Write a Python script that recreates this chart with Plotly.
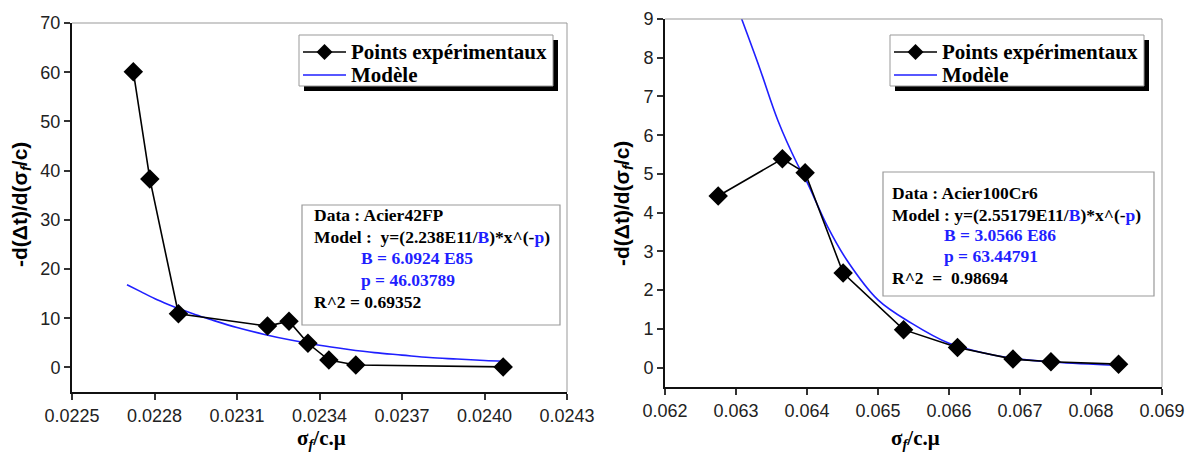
import plotly.graph_objects as go

W, H = 1193, 453

# ---------------- data ----------------
# Left panel : Acier42FP
x_exp_1 = [0.022723, 0.022783, 0.022887, 0.023211, 0.023289, 0.023358, 0.023434, 0.023532, 0.024068]
y_exp_1 = [60.1, 38.3, 10.9, 8.4, 9.4, 4.9, 1.5, 0.5, 0.1]
x_mod_1 = [0.02270, 0.02275, 0.02280, 0.02285, 0.02290, 0.02295, 0.02300, 0.02310, 0.02320,
           0.02330, 0.02340, 0.02350, 0.02360, 0.02370, 0.02380, 0.02390, 0.02400, 0.02407]
y_mod_1 = [16.8, 15.4, 14.0, 12.8, 11.7, 10.7, 9.8, 8.1, 6.7,
           5.5, 4.5, 3.7, 3.0, 2.5, 2.0, 1.7, 1.4, 1.25]
xticks_1 = [0.0225, 0.0228, 0.0231, 0.0234, 0.0237, 0.0240, 0.0243]
yticks_1 = [0, 10, 20, 30, 40, 50, 60, 70]

# Right panel : Acier100Cr6
x_exp_2 = [0.062749, 0.063653, 0.063974, 0.064509, 0.065360, 0.066120, 0.066901, 0.067436, 0.068388]
y_exp_2 = [4.43, 5.39, 5.03, 2.44, 0.98, 0.52, 0.22, 0.15, 0.09]
x_mod_2 = [0.06308, 0.06333, 0.06359, 0.06386, 0.06400, 0.06429, 0.06456, 0.06500, 0.06547,
           0.06600, 0.06654, 0.06700, 0.06750, 0.06839]
y_mod_2 = [9.0, 7.75, 6.38, 5.27, 4.79, 3.64, 2.78, 1.75, 1.15,
           0.63, 0.36, 0.22, 0.14, 0.06]
xticks_2 = [0.062, 0.063, 0.064, 0.065, 0.066, 0.067, 0.068, 0.069]
yticks_2 = [0, 1, 2, 3, 4, 5, 6, 7, 8, 9]

name_exp = "Points expérimentaux"
name_mod = "Modèle"

box_1 = ["Data : Acier42FP",
         "Model :  y=(2.238E11/<span style='color:#1f1fff'>B</span>)*x^(-<span style='color:#1f1fff'>p</span>)",
         "B = 6.0924 E85", "p = 46.03789", "R^2 = 0.69352"]
box_2 = ["Data : Acier100Cr6",
         "Model : y=(2.55179E11/<span style='color:#1f1fff'>B</span>)*x^(-<span style='color:#1f1fff'>p</span>)",
         "B = 3.0566 E86", "p = 63.44791", "R^2  =  0.98694"]

# ---------------- helpers ----------------
def px(x):
    return x / W

def py(y):
    return 1 - y / H

BLUE = "#1f1fff"
fig = go.Figure()

for i, (xe, ye, xm, ym) in enumerate([(x_exp_1, y_exp_1, x_mod_1, y_mod_1),
                                      (x_exp_2, y_exp_2, x_mod_2, y_mod_2)]):
    xa = "x" if i == 0 else "x2"
    ya = "y" if i == 0 else "y2"
    fig.add_trace(go.Scatter(x=xm, y=ym, mode="lines", name=name_mod, xaxis=xa, yaxis=ya,
                             line=dict(color=BLUE, width=1.6, shape="spline"), showlegend=False))
    fig.add_trace(go.Scatter(x=xe, y=ye, mode="lines+markers", name=name_exp, xaxis=xa, yaxis=ya,
                             line=dict(color="black", width=1.6),
                             marker=dict(symbol="diamond", size=15, color="black"),
                             showlegend=False))

tickfont = dict(family="Liberation Sans, Arial", size=18, color="#222")
common_x = dict(showgrid=False, zeroline=False, showline=True, linecolor="#111", linewidth=2,
                ticks="outside", ticklen=6, tickwidth=1.5, tickcolor="#333", tickfont=tickfont,
                fixedrange=True, automargin=False)
common_y = dict(showgrid=False, zeroline=False, showline=True, linecolor="#111", linewidth=2,
                ticks="outside", ticklen=6, tickwidth=1.5, tickcolor="#333", tickfont=tickfont,
                fixedrange=True, automargin=False)

L_X, L_Y = (72, 567), (23, 392)
R_X, R_Y = (665, 1162), (19, 387)

fig.update_layout(
    width=W, height=H, margin=dict(l=0, r=0, t=0, b=0, autoexpand=False),
    paper_bgcolor="white", plot_bgcolor="white", showlegend=False,
    xaxis=dict(domain=[px(L_X[0]), px(L_X[1])], range=[0.0225, 0.0243], tickvals=xticks_1,
               tickformat=".4f", anchor="y", **common_x),
    yaxis=dict(domain=[py(L_Y[1]), py(L_Y[0])], range=[-5, 70], tickvals=yticks_1,
               anchor="x", **common_y),
    xaxis2=dict(domain=[px(R_X[0]), px(R_X[1])], range=[0.062, 0.069], tickvals=xticks_2,
                tickformat=".3f", anchor="y2", **common_x),
    yaxis2=dict(domain=[py(R_Y[1]), py(R_Y[0])], range=[-0.5, 9], tickvals=yticks_2,
                anchor="x2", **common_y),
)

shapes = []
ann = []
for xr, yr in [("x", "y"), ("x2", "y2")]:
    shapes.append(dict(type="line", xref=f"{xr} domain", yref=f"{yr} domain", x0=0, x1=1, y0=1, y1=1,
                       line=dict(color="#999", width=1)))
    shapes.append(dict(type="line", xref=f"{xr} domain", yref=f"{yr} domain", x0=1, x1=1, y0=0, y1=1,
                       line=dict(color="#999", width=1)))

# legends (drawn by hand: shadowed box, line samples, diamond symbol, labels)
legfont = dict(family="Liberation Serif, Times New Roman", size=21, color="black", weight="bold")
for (x0, y0, x1, y1) in [(299, 35, 553, 86), (890, 35, 1144, 86)]:
    shapes.append(dict(type="rect", xref="paper", yref="paper", x0=px(x0 + 5), x1=px(x1 + 5),
                       y0=py(y1 + 5), y1=py(y0 + 5), fillcolor="black", line=dict(width=0),
                       layer="above"))
    shapes.append(dict(type="rect", xref="paper", yref="paper", x0=px(x0), x1=px(x1),
                       y0=py(y1), y1=py(y0), fillcolor="white", line=dict(color="#999", width=1),
                       layer="above"))
    r1, r2 = y0 + 17, y0 + 40
    lx0, lx1 = x0 + 4, x0 + 47
    shapes.append(dict(type="line", xref="paper", yref="paper", x0=px(lx0), x1=px(lx1),
                       y0=py(r1), y1=py(r1), line=dict(color="black", width=1.6), layer="above"))
    cx, d = (lx0 + lx1) / 2, 8
    shapes.append(dict(type="path", xref="paper", yref="paper",
                       path=f"M {px(cx - d)} {py(r1)} L {px(cx)} {py(r1 - d)} L {px(cx + d)} {py(r1)} "
                            f"L {px(cx)} {py(r1 + d)} Z",
                       fillcolor="black", line=dict(color="black", width=0), layer="above"))
    shapes.append(dict(type="line", xref="paper", yref="paper", x0=px(lx0), x1=px(lx1),
                       y0=py(r2), y1=py(r2), line=dict(color=BLUE, width=1.6), layer="above"))
    for t, yy in [(name_exp, r1), (name_mod, r2)]:
        ann.append(dict(text=t, xref="paper", yref="paper", x=px(x0 + 50), y=py(yy),
                        xanchor="left", yanchor="middle", showarrow=False, font=legfont))

# text boxes
for (x0, y0, x1, y1) in [(302, 205, 560, 325), (883, 172, 1154, 296)]:
    shapes.append(dict(type="rect", xref="paper", yref="paper", x0=px(x0), x1=px(x1),
                       y0=py(y1), y1=py(y0), fillcolor="white",
                       line=dict(color="#999", width=1.2), layer="above"))

fig.update_layout(shapes=shapes)

boxfont = dict(family="Liberation Serif, Times New Roman", size=17.5, color="black", weight="bold")
for lines, xl, xi, ys in [(box_1, 312, 359, [215, 237, 258, 280, 302]),
                          (box_2, 890, 942, [193, 215, 235, 256, 278])]:
    for k, (t, yy) in enumerate(zip(lines, ys)):
        f = dict(boxfont)
        if k in (2, 3):
            f["color"] = BLUE
        ann.append(dict(text=t, xref="paper", yref="paper", x=px(xi if k in (2, 3) else xl), y=py(yy),
                        xanchor="left", yanchor="middle", showarrow=False, font=f))

ytitle = "-d(Δt)/d(σ<sub><i>f</i></sub>/c)"
xtitle = "σ<sub><i>f</i></sub>/c.μ"
for xc, yc in [(21, 205), (623, 203)]:
    ann.append(dict(text=ytitle, xref="paper", yref="paper", x=px(xc), y=py(yc), textangle=-90,
                    xanchor="center", yanchor="middle", showarrow=False,
                    font=dict(family="Liberation Sans, Arial", size=21, color="black", weight="bold")))
for xc, yc in [(321, 439), (915, 439)]:
    ann.append(dict(text=xtitle, xref="paper", yref="paper", x=px(xc), y=py(yc),
                    xanchor="center", yanchor="middle", showarrow=False,
                    font=dict(family="Liberation Serif, Times New Roman", size=21, color="black",
                              weight="bold")))
fig.update_layout(annotations=ann)

fig.write_html("out.html", config={"displayModeBar": False},
               post_script="document.body.style.margin='0px';")
